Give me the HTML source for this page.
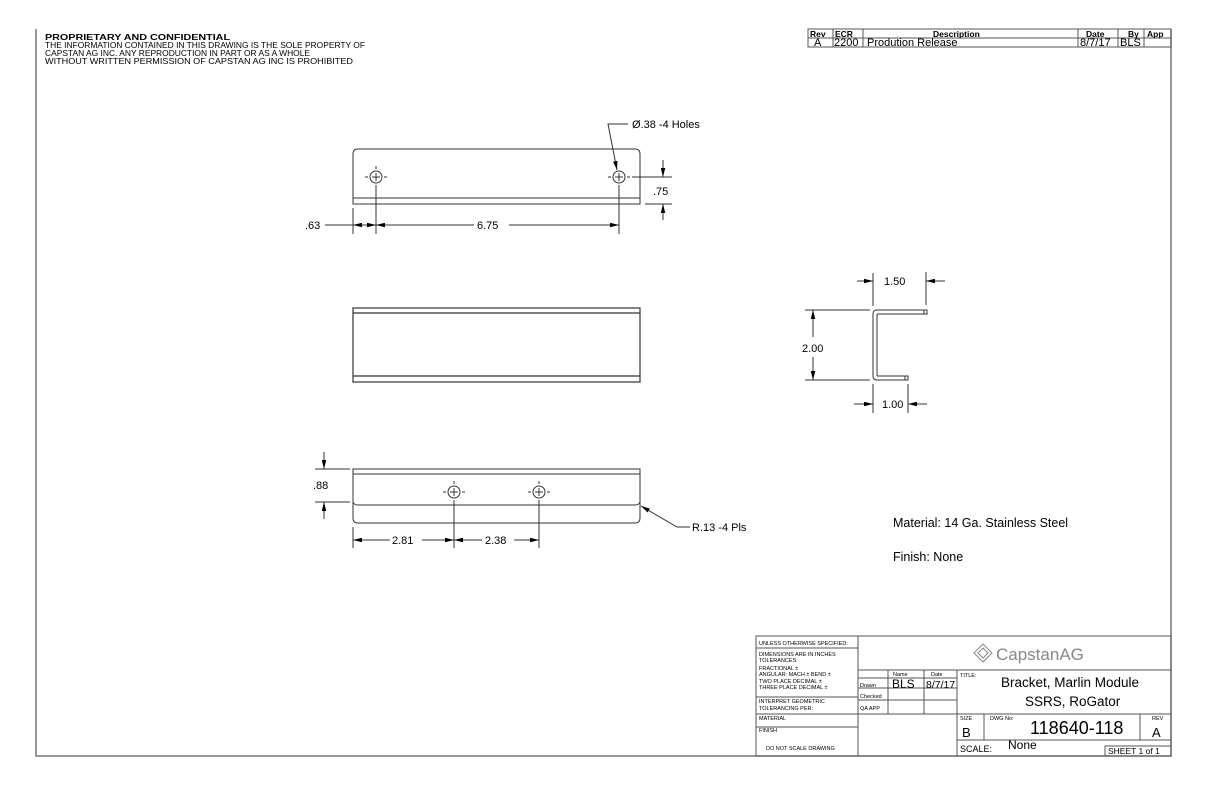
<!DOCTYPE html>
<html><head><meta charset="utf-8"><style>
html,body{margin:0;padding:0;background:#fff}
svg{display:block}
text{font-family:"Liberation Sans",sans-serif;fill:#000}
</style></head><body>
<svg width="1224" height="792" viewBox="0 0 1224 792" xmlns="http://www.w3.org/2000/svg">
<defs>
<marker id="a" viewBox="0 0 10 6" refX="10" refY="3" markerWidth="9" markerHeight="4.5" orient="auto-start-reverse" markerUnits="userSpaceOnUse" preserveAspectRatio="none"><path d="M0,0L10,3L0,6z" fill="#000"/></marker>
</defs>
<g fill="none" stroke="#777" stroke-width="1.5">
<polyline points="36,29 36,756 1171,756 1171,29"/>
</g>
<!-- header text -->
<text x="45" y="40" font-size="8" font-weight="bold" textLength="185" lengthAdjust="spacingAndGlyphs">PROPRIETARY AND CONFIDENTIAL</text>
<text x="45" y="48" font-size="8.3" textLength="320" lengthAdjust="spacingAndGlyphs">THE INFORMATION CONTAINED IN THIS DRAWING IS THE SOLE PROPERTY OF</text>
<text x="45" y="56" font-size="8.3" textLength="265" lengthAdjust="spacingAndGlyphs">CAPSTAN AG INC. ANY REPRODUCTION IN PART OR AS A WHOLE</text>
<text x="45" y="64" font-size="8.3" textLength="308" lengthAdjust="spacingAndGlyphs">WITHOUT WRITTEN PERMISSION OF CAPSTAN AG INC IS PROHIBITED</text>
<!-- rev block -->
<g stroke="#555" stroke-width="1" fill="none">
<rect x="808" y="29" width="363" height="18"/>
<line x1="808" y1="38" x2="1171" y2="38"/>
<line x1="833" y1="29" x2="833" y2="47"/><line x1="863" y1="29" x2="863" y2="47"/>
<line x1="1078" y1="29" x2="1078" y2="47"/><line x1="1118" y1="29" x2="1118" y2="47"/>
<line x1="1144" y1="29" x2="1144" y2="47"/>
</g>
<g font-size="8.5" font-weight="bold">
<text x="810" y="37">Rev</text><text x="835" y="37">ECR</text><text x="933" y="37">Description</text>
<text x="1086" y="37">Date</text><text x="1128" y="37">By</text><text x="1147" y="37">App</text>
</g>
<g font-size="11">
<text x="814" y="46">A</text><text x="834" y="46">2200</text><text x="867" y="46">Prodution Release</text>
<text x="1080" y="46">8/7/17</text><text x="1120" y="46">BLS</text>
</g>
<!-- top view -->
<g stroke="#333" stroke-width="1" fill="none">
<path d="M353,204 V154 Q353,149 358,149 H635 Q640,149 640,154 V204 Z"/>
<line x1="353" y1="198" x2="640" y2="198"/>
<circle cx="376" cy="177" r="6"/><circle cx="619" cy="177" r="6"/>
<path d="M376,173 v8 M372,177 h8 M619,173 v8 M615,177 h8"/>
<path d="M365,177h3 M384,177h3 M608,177h3 M627,177h3 M376,166v3"/>
<line x1="376" y1="185" x2="376" y2="234"/><line x1="619" y1="185" x2="619" y2="234"/>
<line x1="353" y1="208" x2="353" y2="234"/>
<line x1="632" y1="177" x2="672" y2="177"/><line x1="645" y1="204" x2="672" y2="204"/>
<line x1="663" y1="160" x2="663" y2="177" marker-end="url(#a)"/>
<line x1="663" y1="220" x2="663" y2="204" marker-end="url(#a)"/>
<line x1="325" y1="225" x2="353" y2="225"/>
<line x1="353" y1="225" x2="376" y2="225" marker-start="url(#a)" marker-end="url(#a)"/>
<line x1="376" y1="225" x2="474" y2="225" marker-start="url(#a)"/>
<line x1="509" y1="225" x2="619" y2="225" marker-end="url(#a)"/>
<polyline points="628,124 608,124 617,170" marker-end="url(#a)"/>
</g>
<g font-size="11">
<text x="305" y="229">.63</text><text x="477" y="229">6.75</text><text x="653" y="195">.75</text>
<text x="632" y="128">Ø.38 -4 Holes</text>
</g>
<!-- middle view -->
<g stroke="#333" stroke-width="1.2" fill="none">
<rect x="353" y="308" width="287" height="74"/>
<line x1="353" y1="313" x2="640" y2="313"/><line x1="353" y1="376" x2="640" y2="376"/>
</g>
<!-- bottom view -->
<g stroke="#333" stroke-width="1" fill="none">
<path d="M353,469 H640 V518 Q640,523 635,523 H358 Q353,523 353,518 Z"/>
<line x1="353" y1="474" x2="640" y2="474"/>
<path d="M353,502 Q354,505 358,505 H635 Q639,505 640,502"/>
<circle cx="454" cy="492" r="6"/><circle cx="539" cy="492" r="6"/>
<path d="M454,488v8 M450,492h8 M539,488v8 M535,492h8 M443,492h3 M462,492h3 M528,492h3 M547,492h3 M454,481v3 M539,481v3"/>
<line x1="454" y1="500" x2="454" y2="548"/><line x1="539" y1="500" x2="539" y2="548"/>
<line x1="353" y1="527" x2="353" y2="548"/>
<line x1="315" y1="469" x2="350" y2="469"/><line x1="315" y1="502" x2="350" y2="502"/>
<line x1="324" y1="452" x2="324" y2="469" marker-end="url(#a)"/>
<line x1="324" y1="519" x2="324" y2="502" marker-end="url(#a)"/>
<line x1="353" y1="540" x2="390" y2="540" marker-start="url(#a)"/>
<line x1="422" y1="540" x2="454" y2="540" marker-end="url(#a)"/>
<line x1="454" y1="540" x2="482" y2="540" marker-start="url(#a)"/>
<line x1="514" y1="540" x2="539" y2="540" marker-end="url(#a)"/>
<polyline points="690,527 677,527 641,506" marker-end="url(#a)"/>
</g>
<g font-size="11">
<text x="313" y="489">.88</text><text x="392" y="544">2.81</text><text x="485" y="544">2.38</text>
<text x="692" y="531">R.13 -4 Pls</text>
</g>
<!-- side view -->
<g stroke="#333" stroke-width="1" fill="none">
<path d="M927,310 H877 Q873,310 873,314 V376 Q873,380 877,380 H908 V376 H878 Q877,376 877,375 V315 Q877,314 878,314 H927 Z"/>
<line x1="924" y1="310" x2="924" y2="314"/><line x1="905" y1="376" x2="905" y2="380"/>
<line x1="873" y1="273" x2="873" y2="306"/><line x1="926" y1="272" x2="926" y2="305"/>
<line x1="857" y1="281" x2="873" y2="281" marker-end="url(#a)"/>
<line x1="945" y1="281" x2="926" y2="281" marker-end="url(#a)"/>
<line x1="805" y1="310" x2="870" y2="310"/><line x1="805" y1="380" x2="870" y2="380"/>
<line x1="813" y1="337" x2="813" y2="310" marker-end="url(#a)"/>
<line x1="813" y1="357" x2="813" y2="380" marker-end="url(#a)"/>
<line x1="873" y1="384" x2="873" y2="413"/><line x1="908" y1="384" x2="908" y2="413"/>
<line x1="854" y1="404" x2="873" y2="404" marker-end="url(#a)"/>
<line x1="927" y1="404" x2="908" y2="404" marker-end="url(#a)"/>
</g>
<g font-size="11">
<text x="884" y="285">1.50</text><text x="802" y="352">2.00</text><text x="882" y="408">1.00</text>
</g>
<text x="893" y="527" font-size="12.5">Material: 14 Ga. Stainless Steel</text>
<text x="893" y="561" font-size="12.5">Finish: None</text>
<!-- title block -->
<g stroke="#555" stroke-width="1" fill="none">
<rect x="756" y="636" width="415" height="120"/>
<line x1="858" y1="636" x2="858" y2="756"/><line x1="957" y1="670" x2="957" y2="756"/>
<line x1="756" y1="648" x2="858" y2="648"/><line x1="756" y1="697" x2="858" y2="697"/>
<line x1="756" y1="714" x2="858" y2="714"/><line x1="756" y1="727" x2="858" y2="727"/>
<line x1="858" y1="670" x2="1171" y2="670"/>
<line x1="858" y1="678" x2="957" y2="678"/><line x1="858" y1="688" x2="957" y2="688"/>
<line x1="858" y1="700" x2="957" y2="700"/><line x1="858" y1="714" x2="1171" y2="714"/>
<line x1="888" y1="670" x2="888" y2="714"/><line x1="924" y1="670" x2="924" y2="714"/>
<line x1="957" y1="740" x2="1171" y2="740"/>
<line x1="984" y1="714" x2="984" y2="740"/><line x1="1140" y1="714" x2="1140" y2="740"/>
<polyline points="1105,756 1105,746 1171,746"/>
</g>
<g font-size="5.5">
<text x="759" y="645">UNLESS OTHERWISE SPECIFIED:</text>
<text x="759" y="656">DIMENSIONS ARE IN INCHES</text>
<text x="759" y="662">TOLERANCES:</text>
<text x="759" y="670">FRACTIONAL ±</text>
<text x="759" y="676">ANGULAR: MACH ±   BEND ±</text>
<text x="759" y="683">TWO PLACE DECIMAL  ±</text>
<text x="759" y="689">THREE PLACE DECIMAL  ±</text>
<text x="759" y="703">INTERPRET GEOMETRIC</text>
<text x="759" y="710">TOLERANCING PER:</text>
<text x="759" y="720">MATERIAL</text>
<text x="759" y="732">FINISH</text>
<text x="766" y="750">DO NOT SCALE DRAWING</text>
<text x="893" y="676">Name</text><text x="931" y="676">Date</text>
<text x="860" y="687">Drawn</text><text x="860" y="698">Checked</text><text x="860" y="710">QA APP</text>
<text x="960" y="677">TITLE:</text><text x="960" y="720">SIZE</text><text x="990" y="720">DWG No:</text><text x="1152" y="720">REV</text>
</g>
<text x="892" y="688" font-size="12">BLS</text><text x="926" y="688" font-size="10.5">8/7/17</text>
<g fill="none" stroke="#888" stroke-width="1"><path d="M983,644 l9,9 l-9,9 l-9,-9z"/><path d="M983,648 l5,5 l-5,5 l-5,-5z"/></g>
<text x="996" y="660" font-size="17" style="fill:#888">CapstanAG</text>
<text x="1001" y="687" font-size="13.5">Bracket, Marlin Module</text>
<text x="1025" y="706" font-size="13.5">SSRS, RoGator</text>
<text x="962" y="737" font-size="13">B</text>
<text x="1030" y="734" font-size="18">118640-118</text>
<text x="1152" y="737" font-size="13">A</text>
<text x="960" y="752" font-size="9">SCALE:</text>
<text x="1008" y="749" font-size="12">None</text>
<text x="1108" y="754" font-size="8.5">SHEET 1 of 1</text>
</svg>
</body></html>
